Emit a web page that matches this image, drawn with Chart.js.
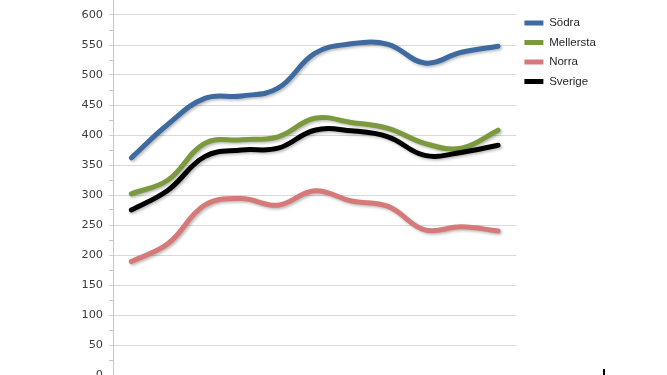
<!DOCTYPE html>
<html><head><meta charset="utf-8">
<script src="https://cdn.jsdelivr.net/npm/chart.js@4"></script>
<style>
html,body{margin:0;padding:0;width:667px;height:375px;overflow:hidden;background:#fff;}
#wrap{position:absolute;left:0;top:-40px;width:667px;height:460px;}
#mark{position:absolute;left:603px;top:369px;width:2px;height:6px;background:#000;}
</style></head><body>
<div id="wrap"><canvas id="c"></canvas></div>
<div id="mark"></div>
<script>
// ---- data ----
const categories = ['1','2','3','4','5','6','7','8','9','10','11'];
const seriesNames = ['Södra','Mellersta','Norra','Sverige'];
const sodra     = [362, 418, 461, 465, 478, 536, 552, 551, 520, 538, 548];
const mellersta = [302, 325, 386, 392, 397, 428, 421, 411, 386, 378, 408];
const norra     = [189, 219, 283, 294, 283, 307, 290, 281, 242, 247, 240];
const sverige   = [275, 308, 364, 375, 378, 408, 407, 397, 366, 371, 383];
const yMin = 0, yMax = 650, yMajorStep = 50, yMinorStep = 25;

const colors = ['#3d6a9f', '#7a9a3d', '#d67a79', '#000000'];
const values = [sodra, mellersta, norra, sverige];

const shadowPlugin = {
  id: 'lineShadow',
  beforeDatasetDraw(chart) {
    const c = chart.ctx; c.save();
    c.shadowColor = 'rgba(0,0,0,0.28)'; c.shadowBlur = 3;
    c.shadowOffsetX = 1.5; c.shadowOffsetY = 1.5;
  },
  afterDatasetDraw(chart) { chart.ctx.restore(); }
};

const chart = new Chart(document.getElementById('c'), {
  type: 'line',
  data: {
    labels: categories,
    datasets: seriesNames.map((n, i) => ({
      label: n,
      data: values[i],
      borderColor: colors[i],
      backgroundColor: colors[i],
      borderWidth: 5,
      pointRadius: 0,
      tension: 0.4,
      borderCapStyle: 'round',
      borderJoinStyle: 'round',
      fill: false,
      order: 3 - i
    }))
  },
  options: {
    responsive: true,
    maintainAspectRatio: false,
    animation: false,
    layout: { padding: { left: 0, right: 60, top: 25, bottom: 45 } },
    scales: {
      x: { type: 'category', offset: true, display: false },
      y: {
        min: yMin, max: yMax,
        afterFit: s => { s.width = 113; },
        border: { display: true, color: '#c6c6c6', width: 1 },
        grid: {
          drawTicks: true, tickLength: 4,
          color: c => (c.tick && c.tick.value % yMajorStep === 0) ? '#d9d9d9' : 'rgba(0,0,0,0)',
          tickColor: c => (c.tick && c.tick.value % yMajorStep === 0) ? '#d0d0d0' : '#c4c4c4'
        },
        ticks: {
          stepSize: yMinorStep, autoSkip: false, padding: 6,
          color: '#3c3c3c',
          font: { family: 'DejaVu Sans', size: 11.3 },
          callback: v => (v % yMajorStep === 0 && v <= 600) ? String(v) : ''
        }
      }
    },
    plugins: {
      tooltip: { enabled: false },
      legend: {
        position: 'right', align: 'start',
        title: { display: true, text: '', font: { size: 10 }, padding: { top: 0, bottom: 12 } },
        labels: {
          usePointStyle: true, pointStyle: 'line', pointStyleWidth: 19,
          padding: 8, color: '#262626',
          font: { family: 'Liberation Sans, Arial, sans-serif', size: 11.5 },
          sort: (a, b) => a.datasetIndex - b.datasetIndex
        }
      }
    }
  },
  plugins: [shadowPlugin]
});

// layout fine-tuning so the plot area lands where the reference has it
for (let k = 0; k < 3; k++) {
  const a = chart.chartArea;
  const p = chart.options.layout.padding;
  p.right += (a.right - 516.4);
  p.top += (25 - a.top);
  p.bottom += (a.bottom - 415);
  const lg = chart.legend;
  if (lg && lg.legendHitBoxes && lg.legendHitBoxes.length) {
    const hb = lg.legendHitBoxes[0];
    const cy = hb.top + hb.height / 2;
    chart.options.plugins.legend.title.padding.bottom += (63 - cy);
  }
  chart.update('none');
}
</script>
</body></html>
